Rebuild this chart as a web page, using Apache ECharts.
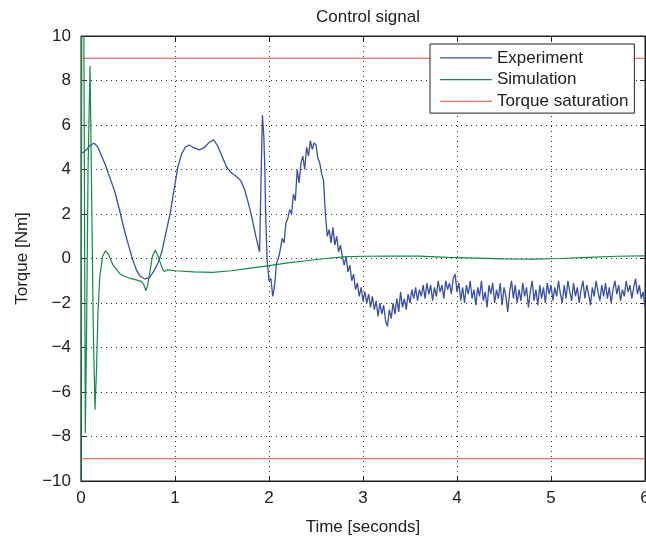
<!DOCTYPE html>
<html>
<head>
<meta charset="utf-8">
<script src="https://cdn.jsdelivr.net/npm/echarts@6/dist/echarts.min.js"></script>
<style>
  html, body { margin: 0; padding: 0; background: #fff; }
  #chart { width: 646px; height: 541px; }
</style>
</head>
<body>
<div id="chart"></div>
<script>
// x / y ticks
const xTicks = [0, 1, 2, 3, 4, 5, 6];
const yTicks = [-10, -8, -6, -4, -2, 0, 2, 4, 6, 8, 10];

// experiment, smooth part before 2 s: [time, torque]
const expSmooth = [
  [0, 4.75], [0.03, 4.78], [0.06, 4.9], [0.10, 5.1], [0.14, 5.18], [0.18, 5.0],
  [0.22, 4.6], [0.26, 4.2], [0.31, 3.6], [0.36, 3.0], [0.42, 2.0], [0.46, 1.3],
  [0.50, 0.68], [0.55, -0.05], [0.59, -0.52], [0.63, -0.8], [0.68, -0.92],
  [0.73, -0.85], [0.77, -0.6], [0.82, -0.2], [0.86, 0.3], [0.90, 1.1],
  [0.95, 2.05], [0.99, 3.1], [1.03, 4.1], [1.07, 4.7], [1.11, 5.0], [1.15, 5.1],
  [1.20, 4.98], [1.26, 4.88], [1.31, 4.98], [1.36, 5.2], [1.41, 5.33],
  [1.45, 5.1], [1.50, 4.6], [1.55, 4.1], [1.60, 3.85], [1.65, 3.7], [1.70, 3.5],
  [1.74, 3.1], [1.78, 2.5], [1.82, 1.8], [1.86, 1.0], [1.90, 0.3],
  [1.915, 3.5], [1.93, 6.45], [1.945, 5.5], [1.955, 4.1], [1.965, 1.9], [1.98, -0.1]
];

// experiment, sampled every 0.02 s from 2.00 s to 6.00 s
const expStart = 2.0;
const expStep = 0.02;
const expNoisy = [
  -1.0, -0.9, -1.7, -1.2, -0.2, 0.0, 0.4, 0.9, 0.7, 1.6,
  1.8, 2.2, 2.0, 2.9, 2.6, 4.0, 3.4, 4.3, 4.6, 4.0,
  5.0, 4.6, 5.3, 4.9, 5.2, 5.1, 4.5, 4.3, 3.8, 3.5,
  2.0, 1.0, 1.3, 0.7, 1.4, 0.6, 1.0, 0.3, 0.6, 0.1,
  -0.3, 0.1, -0.6, -0.3, -1.0, -0.7, -1.4, -1.1, -1.7, -1.3,
  -1.9, -1.5, -2.0, -1.6, -2.2, -1.7, -2.3, -1.9, -2.6, -2.0,
  -2.5, -2.1, -2.8, -3.05, -2.3, -2.7, -2.0, -2.5, -1.8, -2.4,
  -1.5, -2.2, -1.8, -2.3, -1.6, -2.0, -1.4, -1.8, -1.3, -1.9,
  -1.4, -1.7, -1.2, -1.8, -1.1, -1.6, -1.2, -1.9, -1.3, -1.7,
  -1.0, -1.5, -1.2, -1.8, -1.0, -1.4, -1.1, -1.6, -0.9, -0.7,
  -1.5, -1.1, -1.9, -1.3, -2.0, -1.2, -1.6, -1.0, -1.8, -1.4,
  -2.1, -1.3, -1.7, -1.0, -1.9, -1.5, -2.2, -1.2, -1.6, -1.1,
  -2.0, -1.4, -1.8, -1.1, -2.1, -1.3, -1.7, -2.4, -1.5, -1.0,
  -1.8, -1.2, -2.0, -1.4, -1.9, -1.1, -1.7, -1.3, -2.2, -1.5,
  -1.0, -1.9, -1.4, -2.1, -1.2, -1.8, -1.3, -2.0, -1.1, -1.6,
  -1.2, -1.9, -1.3, -1.7, -1.0, -1.6, -2.0, -1.2, -1.8, -1.0,
  -1.5, -1.9, -1.1, -1.7, -1.3, -2.0, -1.4, -1.0, -1.8, -1.2,
  -1.6, -2.1, -1.3, -1.7, -1.0, -1.5, -1.9, -1.2, -1.7, -1.1,
  -1.8, -1.3, -2.0, -1.4, -1.0, -1.6, -1.2, -1.9, -1.4, -1.7,
  -1.0, -1.5, -1.2, -1.8, -1.3, -0.9, -1.6, -1.2, -1.8, -1.5,
  -2.2
];

// simulation: [time, torque]
const simData = [
  [0, -10.5], [0.008, 11], [0.03, 11], [0.046, -7.85], [0.06, -3], [0.075, 4],
  [0.096, 8.65], [0.11, 4], [0.13, -3], [0.149, -6.8], [0.165, -5], [0.18, -2.5],
  [0.20, -0.8], [0.23, 0.1], [0.26, 0.35], [0.29, 0.2], [0.34, -0.29], [0.38, -0.5],
  [0.41, -0.67], [0.46, -0.8], [0.52, -0.89], [0.58, -0.95], [0.645, -1.04],
  [0.67, -1.2], [0.69, -1.45], [0.71, -1.2], [0.73, -0.67], [0.76, 0.1],
  [0.79, 0.38], [0.82, 0.1], [0.84, -0.14], [0.87, -0.5], [0.89, -0.59],
  [0.92, -0.5], [0.95, -0.52], [1.0, -0.55], [1.2, -0.6], [1.4, -0.62],
  [1.6, -0.55], [1.8, -0.43], [2.0, -0.32], [2.2, -0.2], [2.4, -0.1], [2.6, 0.0],
  [2.8, 0.07], [3.0, 0.1], [3.3, 0.11], [3.6, 0.11], [3.9, 0.05], [4.2, 0.02],
  [4.5, -0.02], [4.8, -0.03], [5.1, 0.0], [5.4, 0.05], [5.7, 0.1], [6.0, 0.12]
];

// torque saturation levels
const satUpper = [[0, 9], [6, 9]];
const satLower = [[0, -9], [6, -9]];

const expData = expSmooth.concat(
  expNoisy.map((v, i) => [+(expStart + i * expStep).toFixed(2), v])
);

const font = '"Liberation Sans", Arial, sans-serif';
const minus = (v) => String(v).replace('-', '\u2212');

const chart = echarts.init(document.getElementById('chart'));

const axisCommon = {
  type: 'value',
  axisLine: { show: true, onZero: false, lineStyle: { color: '#222', width: 1 } },
  axisTick: { show: true, inside: true, length: 5, lineStyle: { color: '#222' } },
  splitLine: { show: false },
};
const gridDots = { show: true, lineStyle: { color: '#333', type: [1, 4], width: 1 } };

const option = {
  animation: false,
  backgroundColor: '#fff',
  textStyle: { fontFamily: font },
  title: {
    text: 'Control signal',
    left: 363,
    textAlign: 'center',
    top: 4,
    textStyle: { fontSize: 17, fontWeight: 'normal', color: '#222', fontFamily: font },
  },
  legend: {
    orient: 'vertical',
    left: 430,
    top: 44,
    padding: [3, 6, 1, 10],
    icon: 'rect',
    itemWidth: 52,
    itemHeight: 1.2,
    itemGap: 0,
    borderColor: '#222',
    borderWidth: 1,
    backgroundColor: '#fff',
    textStyle: { fontSize: 17, lineHeight: 21.7, color: '#222', fontFamily: font },
    data: ['Experiment', 'Simulation', 'Torque saturation'],
  },
  grid: {
    left: 81,
    right: 1,
    top: 36,
    bottom: 60,
    outerBoundsMode: 'none',
    show: true,
    borderColor: '#222',
    borderWidth: 1,
  },
  xAxis: [
    {
      ...axisCommon,
      min: xTicks[0],
      max: xTicks[xTicks.length - 1],
      interval: 1,
      name: 'Time [seconds]',
      nameLocation: 'middle',
      nameGap: 38,
      nameTextStyle: { fontSize: 17, color: '#222', fontFamily: font },
      axisLabel: { fontSize: 17, color: '#222', margin: 9, formatter: minus },
      splitLine: gridDots,
    },
    {
      ...axisCommon,
      position: 'top',
      min: xTicks[0],
      max: xTicks[xTicks.length - 1],
      interval: 1,
      axisLabel: { show: false },
    },
  ],
  yAxis: [
    {
      ...axisCommon,
      min: yTicks[0],
      max: yTicks[yTicks.length - 1],
      interval: 2,
      name: 'Torque [Nm]',
      nameLocation: 'middle',
      nameGap: 49,
      nameTextStyle: { fontSize: 17, color: '#222', fontFamily: font },
      axisLabel: { fontSize: 17, color: '#222', margin: 10, formatter: minus },
      splitLine: gridDots,
    },
    {
      ...axisCommon,
      position: 'right',
      min: yTicks[0],
      max: yTicks[yTicks.length - 1],
      interval: 2,
      axisLabel: { show: false },
    },
  ],
  series: [
    {
      name: 'Experiment',
      type: 'line',
      data: expData,
      symbol: 'none',
      clip: true,
      lineStyle: { color: '#3a50a4', width: 1.3 },
      itemStyle: { color: '#3a50a4' },
    },
    {
      name: 'Simulation',
      type: 'line',
      data: simData,
      symbol: 'none',
      clip: true,
      lineStyle: { color: '#138a48', width: 1.2 },
      itemStyle: { color: '#138a48' },
    },
    {
      name: 'Torque saturation',
      type: 'line',
      data: satUpper,
      symbol: 'none',
      lineStyle: { color: '#ea4a4a', width: 1 },
      itemStyle: { color: '#ea4a4a' },
    },
    {
      name: 'Torque saturation',
      type: 'line',
      data: satLower,
      symbol: 'none',
      lineStyle: { color: '#ea4a4a', width: 1 },
      itemStyle: { color: '#ea4a4a' },
    },
  ],
};

chart.setOption(option);
</script>
</body>
</html>
